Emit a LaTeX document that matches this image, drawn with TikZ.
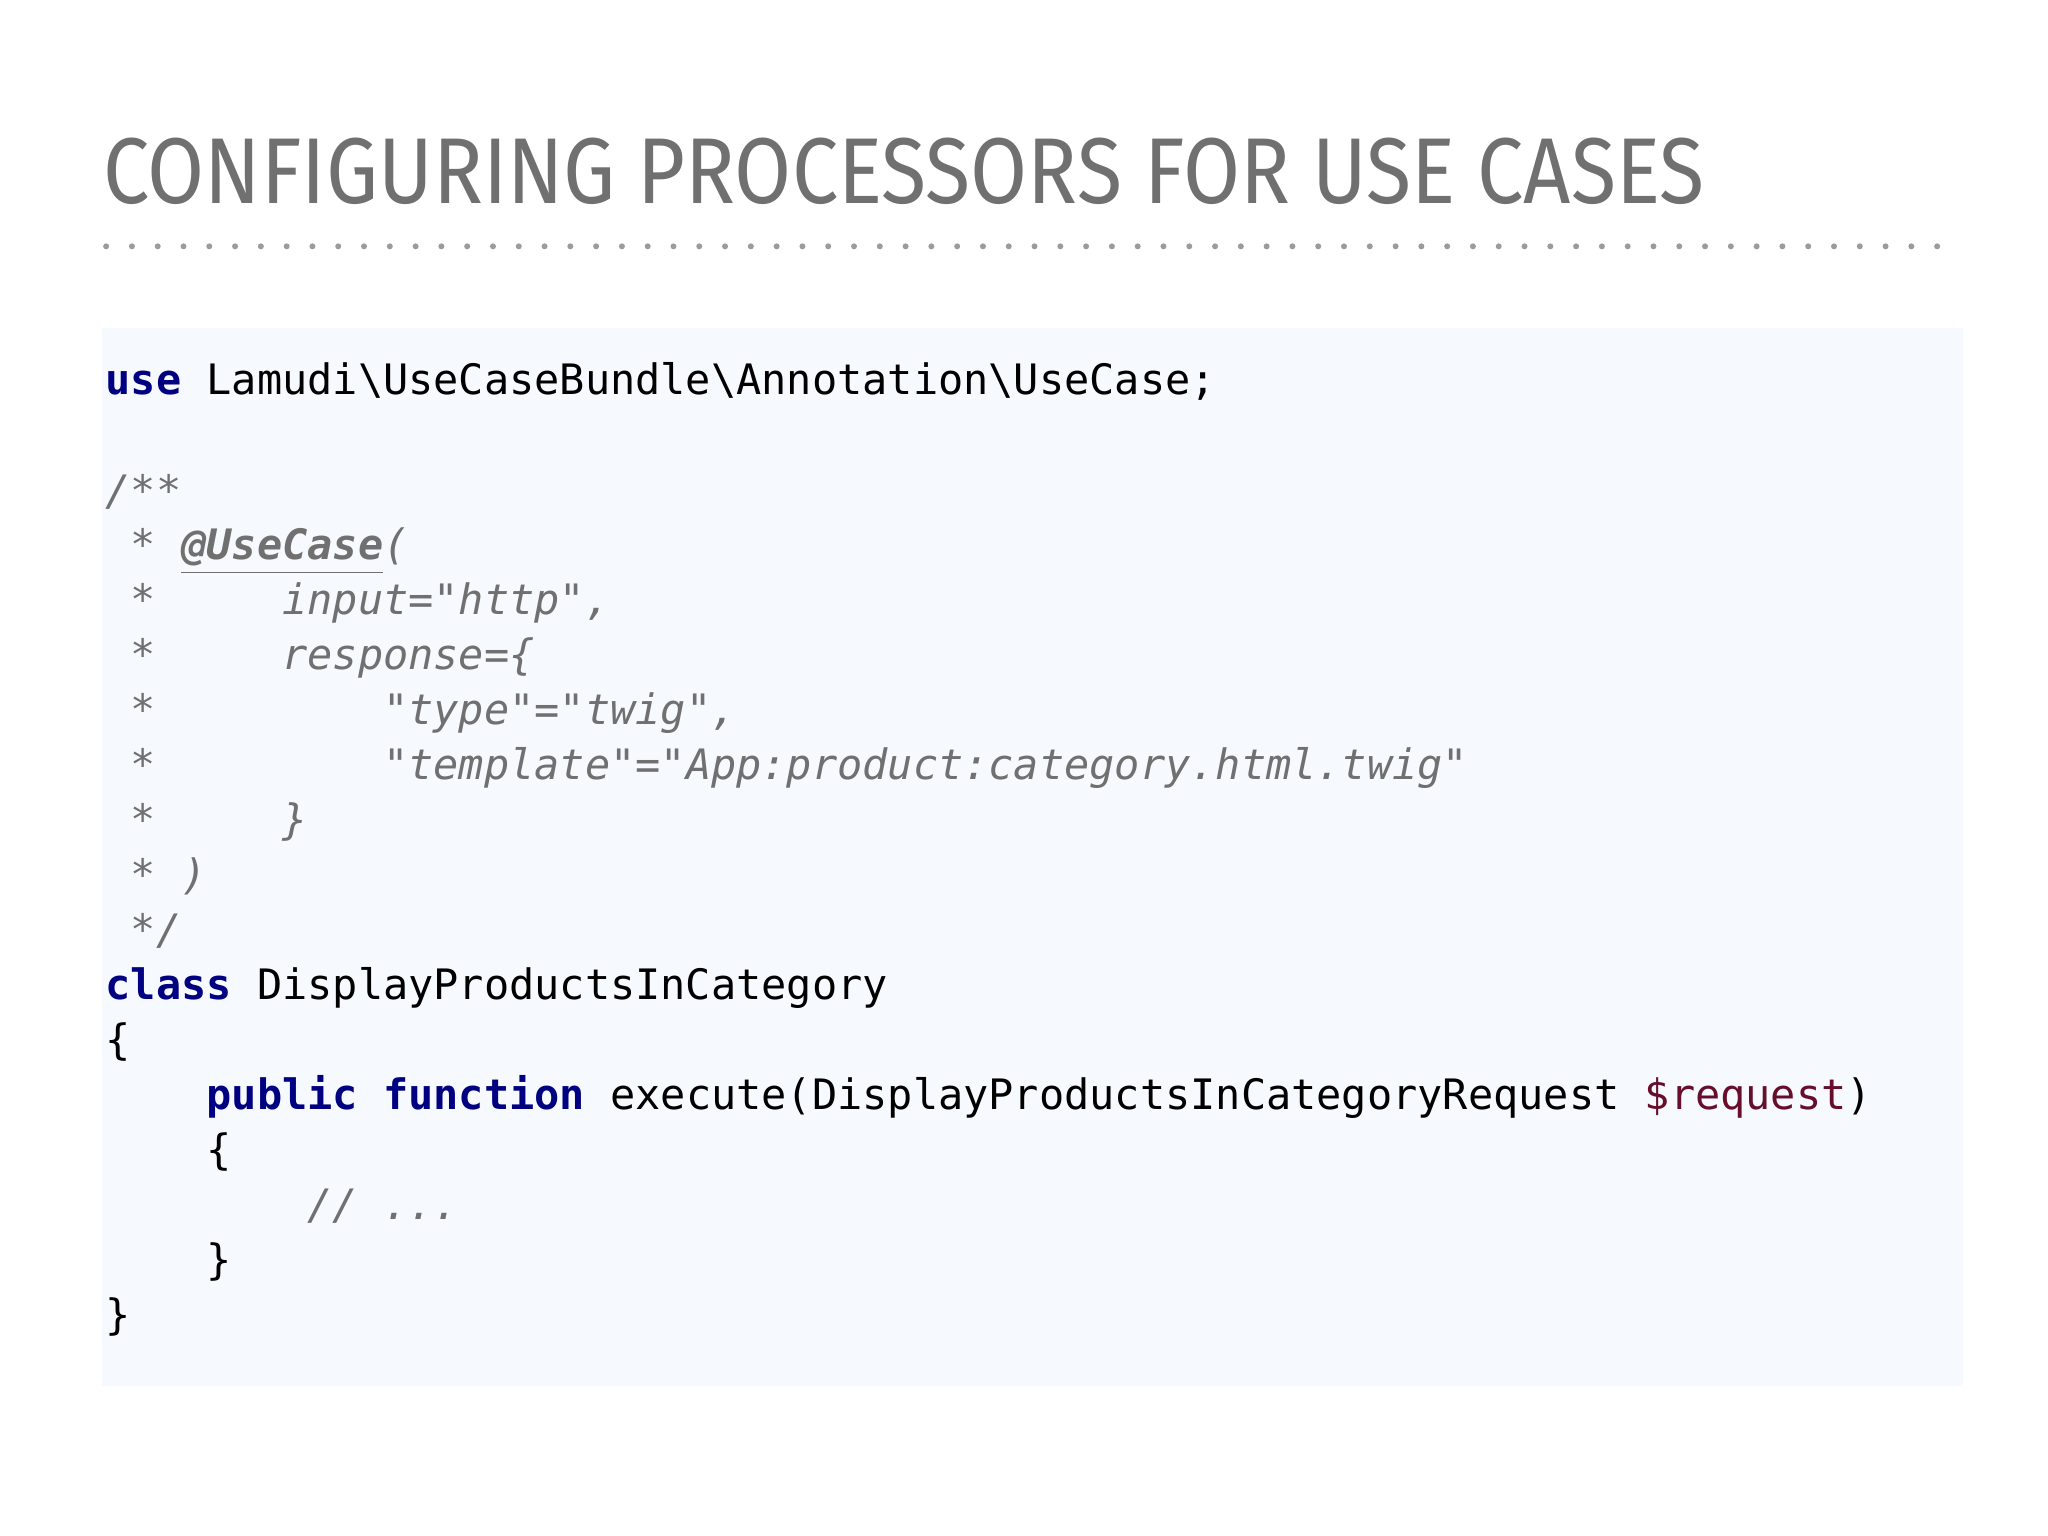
\documentclass[tikz,border=0pt]{standalone}
\usepackage{fontspec}
\setmonofont{DejaVu Sans Mono}
\newfontfamily\titlefont{Fira Sans}
\usetikzlibrary{calc}
\definecolor{kw}{HTML}{000080}
\definecolor{cm}{HTML}{707070}
\definecolor{vr}{HTML}{660E2A}
\definecolor{bg}{HTML}{F6F9FD}
\definecolor{tt}{HTML}{707070}
\newcommand{\cs}[1]{\hspace*{#1\fontcharwd\font32}}
\newcommand{\kw}[1]{{\color{kw}\bfseries #1}}
\newcommand{\cmt}[1]{{\color{cm}\itshape #1}}
\begin{document}
\begin{tikzpicture}[x=1cm,y=-1cm,
  code/.style={anchor=base west,inner sep=0pt,font=\ttfamily\fontsize{9.1pt}{11pt}\selectfont,text=black}]
\useasboundingbox (0,0) rectangle (15.63,11.72);
\fill[bg] (0.78,2.50) rectangle (14.98,10.58);
\node[anchor=base west,inner sep=0pt,text=tt] (title) at (0.78,1.55) {\resizebox{12.22cm}{0.50cm}{\titlefont CONFIGURING PROCESSORS FOR USE CASES}};
\draw[cm!70,line width=1.3pt,dash pattern=on 0pt off 5.6pt,line cap=round] (0.81,1.88) coordinate (d1) -- (14.92,1.88) coordinate (d2);
\node[code] (l1) at (0.80,3.01) {\kw{use} Lamudi\textbackslash UseCaseBundle\textbackslash Annotation\textbackslash UseCase;};
\node[code] (l2) at (0.80,3.86) {\cmt{/**}};
\node[code] (l3) at (0.80,4.27) {\cmt{\cs1* \underline{\bfseries @UseCase}(}};
\node[code] (l4) at (0.80,4.69) {\cmt{\cs1*\cs5input="http",}};
\node[code] (l5) at (0.80,5.11) {\cmt{\cs1*\cs5response=\{}};
\node[code] (l6) at (0.80,5.53) {\cmt{\cs1*\cs9"type"="twig",}};
\node[code] (l7) at (0.80,5.95) {\cmt{\cs1*\cs9"template"="App:product:category.html.twig"}};
\node[code] (l8) at (0.80,6.37) {\cmt{\cs1*\cs5\}}};
\node[code] (l9) at (0.80,6.79) {\cmt{\cs1* )}};
\node[code] (l10) at (0.80,7.21) {\cmt{\cs1*/}};
\node[code] (l11) at (0.80,7.63) {\kw{class} DisplayProductsInCategory};
\node[code] (l12) at (0.80,8.05) {\{};
\node[code] (l13) at (0.80,8.47) {\cs4\kw{public} \kw{function} execute(DisplayProductsInCategoryRequest {\color{vr}\$request})};
\node[code] (l14) at (0.80,8.89) {\cs4\{};
\node[code] (l15) at (0.80,9.31) {\cs8\cmt{// ...}};
\node[code] (l16) at (0.80,9.73) {\cs4\}};
\node[code] (l17) at (0.80,10.15) {\}};
\end{tikzpicture}
\end{document}
